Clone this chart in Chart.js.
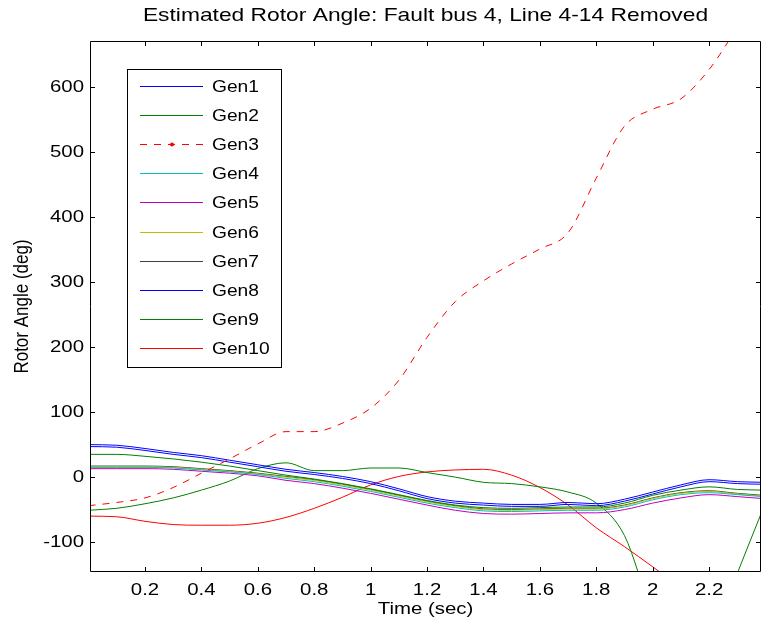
<!DOCTYPE html>
<html>
<head>
<meta charset="utf-8">
<script src="https://cdn.jsdelivr.net/npm/chart.js@4.4.1/dist/chart.umd.min.js"></script>
<style>
  body { margin: 0; background: #fff; }
  #rotorChart { display: block; }
</style>
</head>
<body>
<canvas id="rotorChart" width="761" height="627"></canvas>
<script>
// time base (sec)
const time = [0, 0.1, 0.2, 0.3, 0.4, 0.5, 0.6, 0.7, 0.8, 0.9, 1.0, 1.1, 1.2,
              1.3, 1.4, 1.5, 1.6, 1.7, 1.8, 1.9, 2.0, 2.1, 2.2, 2.3, 2.39];

// rotor angles (deg)
const gen1  = [50, 49, 44, 38, 33, 26, 19, 12, 7, 1, -7, -18, -30, -37, -40, -42, -42, -39, -41, -34, -23, -12, -4, -7, -8];
const gen2  = [35, 35, 32, 28, 23, 17, 10, 3, -3, -10, -18, -27, -36, -43, -47, -48, -47, -46, -46, -40, -28, -20, -15, -19, -20];
const gen3  = [-44, -39, -32, -16, 6, 28, 51, 70, 70, 83, 106, 149, 215, 270, 302, 328, 351, 376, 460, 540, 566, 582, 627, 690, 735];
const gen4  = [15, 15, 15, 14, 11, 8, 4, -2, -7, -14, -22, -31, -40, -47, -52, -53, -52, -51, -51, -46, -35, -27, -24, -27, -30];
const gen5  = [13, 13, 13, 12, 9, 6, 2, -5, -10, -17, -25, -34, -43, -51, -56, -57, -56, -55, -55, -50, -40, -32, -27, -30, -33];
const gen6  = [16, 16, 16, 15, 12, 9, 5, 0, -5, -12, -20, -29, -38, -45, -50, -51, -50, -49, -49, -44, -33, -25, -22, -26, -29];
const gen7  = [17, 17, 17, 16, 13, 10, 6, 1, -4, -11, -19, -28, -37, -44, -49, -50, -49, -48, -48, -43, -32, -24, -21, -25, -28];
const gen8  = [47, 46, 41, 35, 30, 23, 16, 9, 4, -2, -10, -21, -33, -40, -43, -45, -45, -42, -44, -37, -26, -15, -7, -10, -11];
const gen9  = [-51, -48, -41, -32, -20, -6, 13, 22, 10, 10, 14, 14, 7, 0, -8, -10, -15, -23, -40, -90, -210, -280, -260, -148, -50];
const gen10 = [-60, -61, -68, -73, -74, -74, -71, -62, -48, -31, -12, 1, 8, 11, 12, 3, -16, -43, -78, -107, -138, -170, -200, -230, -260];

const genNames  = ['Gen1', 'Gen2', 'Gen3', 'Gen4', 'Gen5', 'Gen6', 'Gen7', 'Gen8', 'Gen9', 'Gen10'];
const genValues = [gen1, gen2, gen3, gen4, gen5, gen6, gen7, gen8, gen9, gen10];
const genColors = ['#0000ff', '#008000', '#ff0000', '#00bfbf', '#bf00bf', '#bfbf00', '#404040', '#0000ff', '#008000', '#ff0000'];

const xTicks = [0.2, 0.4, 0.6, 0.8, 1, 1.2, 1.4, 1.6, 1.8, 2, 2.2];
const yTicks = [-100, 0, 100, 200, 300, 400, 500, 600];

const FONT = 'Liberation Sans, Arial, Helvetica, sans-serif';
const TEXT_STRETCH = 1.2; // the original figure's text is drawn a bit wide

const canvas = document.getElementById('rotorChart');
const ctx = canvas.getContext('2d');

// widen every glyph horizontally (in screen space) around its anchor point
const rawFillText = ctx.fillText.bind(ctx);
ctx.fillText = function (text, x, y) {
  const m = this.getTransform();
  const p = m.transformPoint(new DOMPoint(x, y));
  this.save();
  this.setTransform(new DOMMatrix().translate(p.x, 0).scale(TEXT_STRETCH, 1).translate(-p.x, 0).multiply(m));
  rawFillText(text, x, y);
  this.restore();
};

const datasets = genNames.map((name, i) => ({
  label: name,
  data: time.map((t, k) => ({ x: t, y: genValues[i][k] })),
  borderColor: genColors[i],
  backgroundColor: genColors[i],
  borderWidth: 1,
  borderDash: name === 'Gen3' ? [7, 7] : [],
  pointRadius: 0,
  cubicInterpolationMode: 'monotone',
  fill: false
}));

// MATLAB style box with inward ticks on all four sides
const framePlugin = {
  id: 'frame',
  afterDraw(chart) {
    const { ctx, chartArea: a, scales: { x, y } } = chart;
    ctx.save();
    ctx.strokeStyle = '#000';
    ctx.lineWidth = 1;
    ctx.beginPath();
    ctx.rect(a.left + 0.5, a.top + 0.5, a.right - a.left - 1, a.bottom - a.top - 1);
    x.ticks.forEach(t => {
      const px = Math.round(x.getPixelForValue(t.value)) + 0.5;
      ctx.moveTo(px, a.bottom); ctx.lineTo(px, a.bottom - 5);
      ctx.moveTo(px, a.top);    ctx.lineTo(px, a.top + 5);
    });
    y.ticks.forEach(t => {
      const py = Math.round(y.getPixelForValue(t.value)) + 0.5;
      ctx.moveTo(a.left, py);  ctx.lineTo(a.left + 5, py);
      ctx.moveTo(a.right, py); ctx.lineTo(a.right - 5, py);
    });
    ctx.stroke();
    ctx.restore();
  }
};

// legend box inside the axes, top left
const legendPlugin = {
  id: 'boxLegend',
  afterDraw(chart) {
    const { ctx } = chart;
    const left = 127, top = 69, w = 154, h = 298;
    const rowH = 29.1, firstY = 86;
    ctx.save();
    ctx.fillStyle = '#fff';
    ctx.fillRect(left, top, w, h);
    ctx.strokeStyle = '#000';
    ctx.lineWidth = 1;
    ctx.strokeRect(left + 0.5, top + 0.5, w, h);
    ctx.font = '16px ' + FONT;
    ctx.textBaseline = 'middle';
    chart.data.datasets.forEach((ds, i) => {
      const cy = Math.round(firstY + i * rowH) + 0.5;
      ctx.strokeStyle = ds.borderColor;
      ctx.setLineDash(ds.borderDash || []);
      ctx.beginPath();
      ctx.moveTo(140, cy); ctx.lineTo(203, cy);
      ctx.stroke();
      ctx.setLineDash([]);
      if (ds.label === 'Gen3') {
        ctx.fillStyle = ds.borderColor;
        ctx.beginPath();
        ctx.arc(172, cy, 2, 0, Math.PI * 2);
        ctx.fill();
      }
      ctx.fillStyle = '#000';
      ctx.fillText(ds.label, 212, cy + 1);
    });
    ctx.restore();
  }
};

new Chart(canvas, {
  type: 'line',
  data: { datasets },
  plugins: [framePlugin, legendPlugin],
  options: {
    responsive: false,
    animation: false,
    devicePixelRatio: 1,
    layout: { padding: { left: 0, right: -2, top: 0, bottom: 0 } },
    plugins: {
      legend: { display: false },
      tooltip: { enabled: false },
      title: {
        display: true,
        fullSize: false,
        text: 'Estimated Rotor Angle: Fault bus 4, Line 4-14 Removed',
        color: '#000',
        font: { family: FONT, size: 19, weight: 'normal', lineHeight: 1.2 },
        padding: { top: 4.5, bottom: 13.7 }
      }
    },
    scales: {
      x: {
        type: 'linear',
        min: 0.005,
        max: 2.384,
        afterFit: s => { s.height = 55; },
        afterBuildTicks: s => { s.ticks = xTicks.map(v => ({ value: v })); },
        grid: { display: false, drawTicks: false },
        border: { display: false },
        ticks: {
          color: '#000',
          padding: 8,
          maxRotation: 0,
          autoSkip: false,
          font: { family: FONT, size: 17 },
          callback: v => String(Math.round(v * 10) / 10)
        },
        title: {
          display: true,
          text: 'Time (sec)',
          color: '#000',
          font: { family: FONT, size: 17, lineHeight: 1.2 },
          padding: { top: 0, bottom: 7 }
        }
      },
      y: {
        type: 'linear',
        min: -146,
        max: 671,
        afterFit: s => { s.width = 90; },
        afterBuildTicks: s => { s.ticks = yTicks.map(v => ({ value: v })); },
        grid: { display: false, drawTicks: false },
        border: { display: false },
        ticks: {
          color: '#000',
          padding: 6,
          autoSkip: false,
          font: { family: FONT, size: 17 }
        },
        title: {
          display: true,
          text: 'Rotor Angle (deg)',
          color: '#000',
          font: { family: FONT, size: 17, lineHeight: 1.2 },
          padding: { top: 12, bottom: 0 }
        }
      }
    }
  }
});
</script>
</body>
</html>
